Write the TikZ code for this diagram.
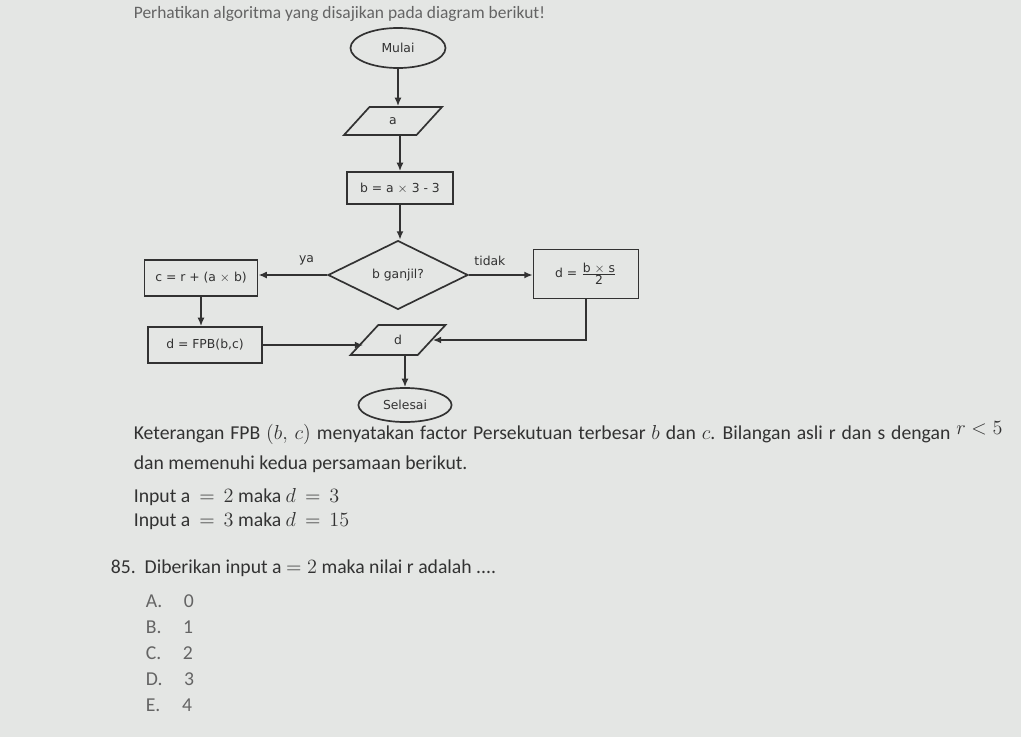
\documentclass[tikz,border=0pt]{standalone}
\usepackage{fontspec}
\setmainfont{Carlito}
\newfontfamily\chartfont{DejaVu Sans}
\usetikzlibrary{shapes.geometric,arrows.meta}

\definecolor{paper}{RGB}{228,230,228}
\definecolor{ink}{RGB}{50,50,50}
\definecolor{greyink}{RGB}{100,100,100}

\begin{document}
\begin{tikzpicture}[x=0.025cm, y=-0.025cm, line width=1.2pt, draw=ink,
    >={Latex[length=6pt,width=5pt]},
    chart/.style = {font=\chartfont\fontsize{8.8}{10}\selectfont, text=ink},
    term/.style = {draw, ellipse, inner sep=0pt, chart},
    io/.style = {draw, trapezium, trapezium left angle=60, trapezium right angle=120,
        trapezium stretches=true, inner sep=0pt, chart},
    proc/.style = {draw, rectangle, inner sep=0pt, chart},
    cond/.style = {draw, diamond, inner sep=0pt, chart},
    txt/.style = {anchor=west, inner sep=0pt, text=ink, font=\fontsize{14}{16}\selectfont}]
	\fill[paper] (0,0) rectangle (1021,737);
	\useasboundingbox (0,0) rectangle (1021,737);
	% judul
	\node[txt, text=greyink, font=\fontsize{12.4}{14}\selectfont] (judul) at (133,14) {Perhatikan algoritma yang disajikan pada diagram berikut!};
	% diagram alir
	\node[term, minimum width=2.375cm, minimum height=1cm] (mulai) at (398,48) {Mulai};
	\node[io, minimum width=2.45cm, minimum height=0.7cm] (ina) at (393,121) {a};
	\node[proc, minimum width=2.65cm, minimum height=0.8cm] (hitb) at (400,188) {b = a $\times$ 3 - 3};
	\node[cond, minimum width=3.5cm, minimum height=1.72cm] (ganjil) at (398,275) {b ganjil?};
	\node[proc, minimum width=2.83cm, minimum height=0.9cm] (hitc) at (201,278) {c = r + (a $\times$ b)};
	\node[proc, minimum width=2.62cm, minimum height=1.22cm] (hitd) at (586,274) {d = $\frac{\textrm{\chartfont b $\times$ s}}{\textrm{\chartfont 2}}$};
	\node[proc, minimum width=2.85cm, minimum height=0.9cm] (fpb) at (205,345) {d = FPB(b,c)};
	\node[io, minimum width=2.375cm, minimum height=0.75cm] (outd) at (398,340) {d};
	\node[term, minimum width=2.33cm, minimum height=0.85cm] (selesai) at (405,405) {Selesai};
	\draw[->] (mulai.south) -- (mulai.south |- ina.north);
	\draw[->] (hitb.north |- ina.south) -- (hitb.north);
	\draw[->] (hitb.south) -- (hitb.south |- ganjil.north);
	\draw[->] (ganjil.west) -- node[above=3pt, pos=0.3, chart] {ya} (ganjil.west -| hitc.east);
	\draw[->] (ganjil.east) -- node[above=3pt, pos=0.33, chart] {tidak} (ganjil.east -| hitd.west);
	\draw[->] (hitc.south) -- (hitc.south |- fpb.north);
	\draw[->] (fpb.east) -- (fpb.east -| outd.west);
	\draw[->] (hitd.south) |- (outd.east);
	\draw[->] (outd.south -| selesai.north) -- (selesai.north);
	% keterangan
	\node[txt] (ket1) at (133,433) {\spaceskip=0.3em plus 0.1em Keterangan FPB $(b,\,c)$ menyatakan factor Persekutuan terbesar $b$ dan $c$. Bilangan asli r dan s dengan \raisebox{4pt}{$r<5$}};
	\node[txt] (ket2) at (133,464) {dan memenuhi kedua persamaan berikut.};
	\node[txt] (inp1) at (133,497) {\thickmuskip=8mu Input a${}=2$ maka $d=3$};
	\node[txt] (inp2) at (133,521) {\thickmuskip=8mu Input a${}=3$ maka $d=15$};
	% soal
	\node[txt] (soal) at (110,568) {85.\ \ Diberikan input a $=2$ maka nilai r adalah ....};
	\foreach \h/\v [count=\i] in {A/0,B/1,C/2,D/3,E/4}
		\node[txt, text=greyink] (opsi\i) at (145,575+26*\i) {\h.\hspace{1.1em}\v};
\end{tikzpicture}
\end{document}
